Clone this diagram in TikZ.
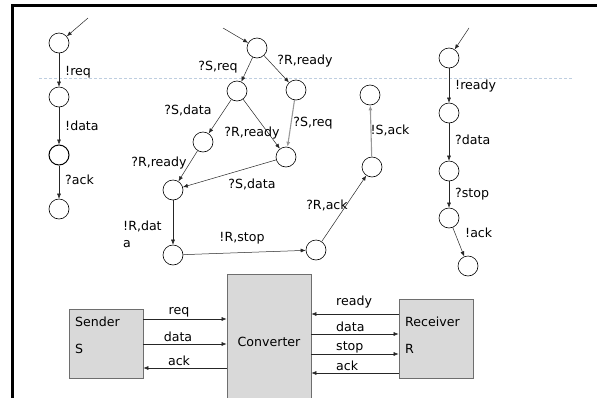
\documentclass[tikz,border=0pt]{standalone}
\usepackage{fontspec}
\setmainfont{DejaVu Sans}
\usetikzlibrary{arrows.meta}
\definecolor{boxfill}{RGB}{217,217,217}
\definecolor{boxline}{RGB}{110,110,110}
\definecolor{dashblue}{RGB}{190,206,224}
\begin{document}
\begin{tikzpicture}[x=1pt,y=-1pt,
  st/.style={circle,draw=black,line width=0.6pt,minimum size=20pt,inner sep=0pt},
  tr/.style={draw=black!85,line width=0.5pt,-{Latex[length=5pt,width=4pt]}},
  trg/.style={draw=gray!80,line width=1.1pt,-{Latex[length=5pt,width=4pt]}},
  lbl/.style={font=\fontsize{12.6}{14}\selectfont,inner sep=0pt},
  blk/.style={draw=boxline,fill=boxfill,line width=0.8pt,inner sep=0pt,rectangle},
  frame/.style={line width=3pt,draw=black}
]
\useasboundingbox (0,0) rectangle (597,397);
% frame
\draw[frame] (12,398) -- (12,5) -- (598,5);
% dashed guide
\draw[dashblue,line width=0.7pt,dash pattern=on 3pt off 2pt] (39,78) -- (572,78);

% ---- sender automaton ----
\coordinate (sinit) at (88,18);
\node[st] (s1) at (59,43) {};
\node[st] (s2) at (59,97) {};
\node[st,line width=1pt] (s3) at (59,155) {};
\node[st] (s4) at (59,209) {};
\draw[tr] (sinit) -- (s1);
\draw[tr] (s1) -- (s2);
\draw[tr] (s2) -- (s3);
\draw[tr] (s3) -- (s4);
\node[lbl,anchor=west] (l1) at (65,72) {!req};
\node[lbl,anchor=west] (l2) at (65,126) {!data};
\node[lbl,anchor=west] (l3) at (65,180) {?ack};

% ---- converter automaton ----
\coordinate (minit) at (223,28);
\node[st] (m0) at (257,48) {};
\node[st] (mA) at (237,91) {};
\node[st] (mB) at (296,90) {};
\node[st] (mC) at (203,142) {};
\node[st] (mD) at (286,157) {};
\node[st] (mE) at (173,190) {};
\node[st] (mF) at (173,255) {};
\node[st] (mG) at (316,250) {};
\node[st] (mH) at (372,167) {};
\node[st] (mI) at (370,95) {};
\draw[tr] (minit) -- (m0);
\draw[tr] (m0) -- (mA);
\draw[tr] (m0) -- (mB);
\draw[tr] (mA) -- (mC);
\draw[tr] (mA) -- (mD);
\draw[trg] (mB) -- (mD);
\draw[tr] (mC) -- (mE);
\draw[tr] (mD) -- (mE);
\draw[tr] (mE) -- (mF);
\draw[tr] (mF) -- (mG);
\draw[tr] (mG) -- (mH);
\draw[trg] (mH) -- (mI);
\node[lbl] (k1) at (218,67) {?S,req};
\node[lbl] (k2) at (305,61) {?R,ready};
\node[lbl] (k3) at (188,110) {?S,data};
\node[lbl] (k4) at (313,123) {?S,req};
\node[lbl] (k5) at (252,133) {?R,ready};
\node[lbl] (k6) at (159,163) {?R,ready};
\node[lbl] (k7) at (252,184) {?S,data};
\node[lbl,font=\fontsize{12.6}{17}\selectfont,align=left,anchor=west] (k8) at (123,234) {!R,dat\\a};
\node[lbl] (k9) at (242,238) {!R,stop};
\node[lbl] (k10) at (327,205) {?R,ack};
\node[lbl] (k11) at (390,130) {!S,ack};

% ---- receiver automaton ----
\coordinate (rinit) at (469,28);
\node[st] (r1) at (449,58) {};
\node[st] (r2) at (449,113) {};
\node[st] (r3) at (449,171) {};
\node[st] (r4) at (449,218) {};
\node[st] (r5) at (468,266) {};
\draw[tr] (rinit) -- (r1);
\draw[tr] (r1) -- (r2);
\draw[tr] (r2) -- (r3);
\draw[tr] (r3) -- (r4);
\draw[tr] (r4) -- (r5);
\node[lbl,anchor=west] (q1) at (455,86) {!ready};
\node[lbl,anchor=west] (q2) at (455,140) {?data};
\node[lbl,anchor=west] (q3) at (455,194) {?stop};
\node[lbl,anchor=west] (q4) at (465,233) {!ack};

% ---- block diagram ----
\node[blk,minimum width=74pt,minimum height=69pt] (sender) at (106,343.5) {};
\node[blk,minimum width=84pt,minimum height=126pt] (conv) at (269,337) {};
\node[blk,minimum width=74pt,minimum height=79pt] (recv) at (436,338.5) {};
\node[lbl,anchor=west] (t1) at (75,322) {Sender};
\node[lbl,anchor=west] (t2) at (75,349) {S};
\node[lbl] (t3) at (269,342) {Converter};
\node[lbl,anchor=west] (t4) at (405,322) {Receiver};
\node[lbl,anchor=west] (t5) at (405,349) {R};

\draw[tr] (sender.east |- 0,319) -- (conv.west |- 0,319);
\draw[tr] (sender.east |- 0,344) -- (conv.west |- 0,344);
\draw[tr] (conv.west |- 0,368) -- (sender.east |- 0,368);
\node[lbl] (b1) at (179,312) {req};
\node[lbl] (b2) at (178,337) {data};
\node[lbl] (b3) at (179,361) {ack};

\draw[tr] (recv.west |- 0,314) -- (conv.east |- 0,314);
\draw[tr] (conv.east |- 0,334) -- (recv.west |- 0,334);
\draw[tr] (conv.east |- 0,354) -- (recv.west |- 0,354);
\draw[tr] (recv.west |- 0,373) -- (conv.east |- 0,373);
\node[lbl,anchor=west] (c1) at (336,302) {ready};
\node[lbl,anchor=west] (c2) at (336,327) {data};
\node[lbl,anchor=west] (c3) at (336,347) {stop};
\node[lbl,anchor=west] (c4) at (336,366) {ack};
\end{tikzpicture}
\end{document}
